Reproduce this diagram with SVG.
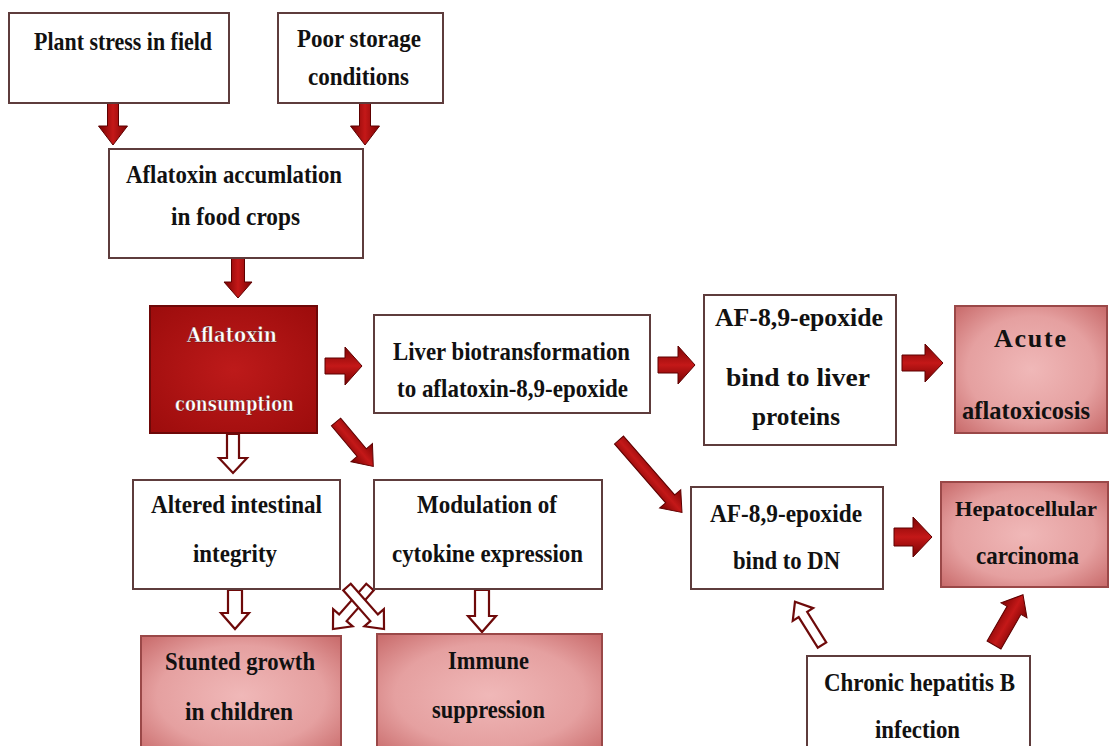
<svg xmlns="http://www.w3.org/2000/svg" width="1111" height="746" viewBox="0 0 1111 746">
<defs>
<radialGradient id="pink" cx="50%" cy="50%" r="70%">
<stop offset="0" stop-color="#f0b8b8"/>
<stop offset="0.6" stop-color="#e5a0a0"/>
<stop offset="1" stop-color="#c86a6a"/>
</radialGradient>
<radialGradient id="dark" cx="50%" cy="50%" r="70%">
<stop offset="0" stop-color="#bd1a1a"/>
<stop offset="1" stop-color="#9c0c0c"/>
</radialGradient>
<linearGradient id="arr" x1="0" y1="0" x2="0" y2="1">
<stop offset="0" stop-color="#7d0404"/>
<stop offset="0.5" stop-color="#c41818"/>
<stop offset="1" stop-color="#760202"/>
</linearGradient>
<style>
.box{fill:#ffffff;stroke:#5e3c3c;stroke-width:2}
.pk{fill:url(#pink);stroke:#9a4848;stroke-width:2}
.dk{fill:url(#dark);stroke:#6e0808;stroke-width:2}
.t{font-family:"Liberation Serif","Times New Roman",serif;font-weight:bold;font-size:26px;fill:#111111}
.w{font-family:"DejaVu Serif","Liberation Serif",serif;font-weight:bold;font-size:20px;fill:#ffffff;stroke:#5a0000;stroke-width:0.4}
.fa{fill:url(#arr);stroke:#5e0000;stroke-width:1}
.ha{fill:#ffffff;stroke:#6e0a0a;stroke-width:2.2;stroke-linejoin:miter}
</style>
</defs>
<rect width="1111" height="746" fill="#ffffff"/>

<g id="connectors">
<path class="fa" transform="translate(113,103) rotate(90)" d="M0,-5.5 H23 V-14.5 L42,0 L23,14.5 V5.5 H0 Z"/>
<path class="fa" transform="translate(365,103) rotate(90)" d="M0,-5.5 H23 V-14.5 L42,0 L23,14.5 V5.5 H0 Z"/>
<path class="fa" transform="translate(238,258) rotate(90)" d="M0,-6.5 H24 V-14 L40,0 L24,14 V6.5 H0 Z"/>
<path class="fa" transform="translate(325,366)" d="M0,-8 H20 V-19 L37,0 L20,19 V8 H0 Z"/>
<path class="fa" transform="translate(658,365)" d="M0,-8 H20 V-19 L37,0 L20,19 V8 H0 Z"/>
<path class="fa" transform="translate(902,363)" d="M0,-8 H23 V-19 L41,0 L23,19 V8 H0 Z"/>
<path class="fa" transform="translate(894,537)" d="M0,-9 H19 V-20 L38,0 L19,20 V9 H0 Z"/>
<path class="fa" transform="translate(336,422) rotate(50)" d="M0,-6 H40 V-14 L58,0 L40,14 V6 H0 Z"/>
<path class="fa" transform="translate(619,440) rotate(49)" d="M0,-6 H78 V-14 L96,0 L78,14 V6 H0 Z"/>
<path class="fa" transform="translate(994,645) rotate(-60)" d="M0,-8 H40 V-15 L58,0 L40,15 V8 H0 Z"/>
<path class="ha" transform="translate(233,434) rotate(90)" d="M0,-6 H24 V-14 L39,0 L24,14 V6 H0 Z"/>
<path class="ha" transform="translate(235,590) rotate(90)" d="M0,-7 H23 V-14 L39,0 L23,14 V7 H0 Z"/>
<path class="ha" transform="translate(482,590) rotate(90)" d="M0,-7 H26 V-14 L42,0 L26,14 V7 H0 Z"/>
<path class="ha" transform="translate(370,587) rotate(131.4)" d="M0,-5 H41 V-13 L56,0 L41,13 V5 H0 Z"/>
<path class="ha" transform="translate(347,587) rotate(48.6)" d="M0,-5 H41 V-13 L56,0 L41,13 V5 H0 Z"/>
<path class="ha" transform="translate(822,645) rotate(-122)" d="M0,-5 H36 V-12 L51,0 L36,12 V5 H0 Z"/>
</g>

<g id="plant-stress">
<rect class="box" x="9" y="13" width="220" height="90"/>
<text class="t" x="34" y="50" textLength="178" lengthAdjust="spacingAndGlyphs">Plant stress in field</text>
</g>
<g id="poor-storage">
<rect class="box" x="278" y="13" width="165" height="90"/>
<text class="t" x="297" y="47" textLength="124" lengthAdjust="spacingAndGlyphs">Poor storage</text>
<text class="t" x="308" y="85" textLength="101" lengthAdjust="spacingAndGlyphs">conditions</text>
</g>
<g id="accumulation">
<rect class="box" x="109" y="149" width="254" height="109"/>
<text class="t" x="126" y="183" textLength="216" lengthAdjust="spacingAndGlyphs">Aflatoxin accumlation</text>
<text class="t" x="171" y="225" textLength="129" lengthAdjust="spacingAndGlyphs">in food crops</text>
</g>
<g id="consumption">
<rect class="dk" x="150" y="306" width="167" height="127"/>
<text class="w" x="187" y="342" textLength="90" lengthAdjust="spacingAndGlyphs">Aflatoxin</text>
<text class="w" x="175" y="411" textLength="119" lengthAdjust="spacingAndGlyphs">consumption</text>
</g>
<g id="liver-biotransformation">
<rect class="box" x="374" y="315" width="276" height="98"/>
<text class="t" x="393" y="360" textLength="237" lengthAdjust="spacingAndGlyphs">Liver biotransformation</text>
<text class="t" x="397" y="397" textLength="231" lengthAdjust="spacingAndGlyphs">to aflatoxin-8,9-epoxide</text>
</g>
<g id="bind-proteins">
<rect class="box" x="704" y="295" width="192" height="150"/>
<text class="t" x="715" y="326" textLength="168" lengthAdjust="spacingAndGlyphs">AF-8,9-epoxide</text>
<text class="t" x="726" y="386" textLength="144" lengthAdjust="spacingAndGlyphs">bind to liver</text>
<text class="t" x="752" y="425" textLength="88" lengthAdjust="spacingAndGlyphs">proteins</text>
</g>
<g id="acute">
<rect class="pk" x="955" y="306" width="152" height="127"/>
<text class="t" x="994" y="347" textLength="72" lengthAdjust="spacing">Acute</text>
<text class="t" x="962" y="419" textLength="128" lengthAdjust="spacingAndGlyphs">aflatoxicosis</text>
</g>
<g id="bind-dn">
<rect class="box" x="691" y="487" width="192" height="102"/>
<text class="t" x="710" y="522" textLength="152" lengthAdjust="spacingAndGlyphs">AF-8,9-epoxide</text>
<text class="t" x="733" y="569" textLength="107" lengthAdjust="spacingAndGlyphs">bind to DN</text>
</g>
<g id="hepatocellular">
<rect class="pk" x="941" y="482" width="167" height="105"/>
<text class="t" x="955" y="516" font-size="22" textLength="142" lengthAdjust="spacingAndGlyphs" style="font-size:22px">Hepatocellular</text>
<text class="t" x="976" y="564" textLength="103" lengthAdjust="spacingAndGlyphs">carcinoma</text>
</g>
<g id="hepatitis">
<rect class="box" x="807" y="656" width="223" height="100"/>
<text class="t" x="824" y="691" textLength="191" lengthAdjust="spacingAndGlyphs">Chronic hepatitis B</text>
<text class="t" x="875" y="738" textLength="85" lengthAdjust="spacingAndGlyphs">infection</text>
</g>
<g id="intestinal">
<rect class="box" x="133" y="480" width="207" height="109"/>
<text class="t" x="151" y="513" textLength="171" lengthAdjust="spacingAndGlyphs">Altered intestinal</text>
<text class="t" x="193" y="562" textLength="84" lengthAdjust="spacingAndGlyphs">integrity</text>
</g>
<g id="cytokine">
<rect class="box" x="374" y="480" width="228" height="109"/>
<text class="t" x="417" y="513" textLength="140" lengthAdjust="spacingAndGlyphs">Modulation of</text>
<text class="t" x="392" y="562" textLength="191" lengthAdjust="spacingAndGlyphs">cytokine expression</text>
</g>
<g id="stunted">
<rect class="pk" x="141" y="636" width="200" height="120"/>
<text class="t" x="165" y="670" textLength="150" lengthAdjust="spacingAndGlyphs">Stunted growth</text>
<text class="t" x="185" y="720" textLength="108" lengthAdjust="spacingAndGlyphs">in children</text>
</g>
<g id="immune">
<rect class="pk" x="377" y="634" width="225" height="122"/>
<text class="t" x="448" y="669" textLength="81" lengthAdjust="spacingAndGlyphs">Immune</text>
<text class="t" x="432" y="718" textLength="113" lengthAdjust="spacingAndGlyphs">suppression</text>
</g>
</svg>
